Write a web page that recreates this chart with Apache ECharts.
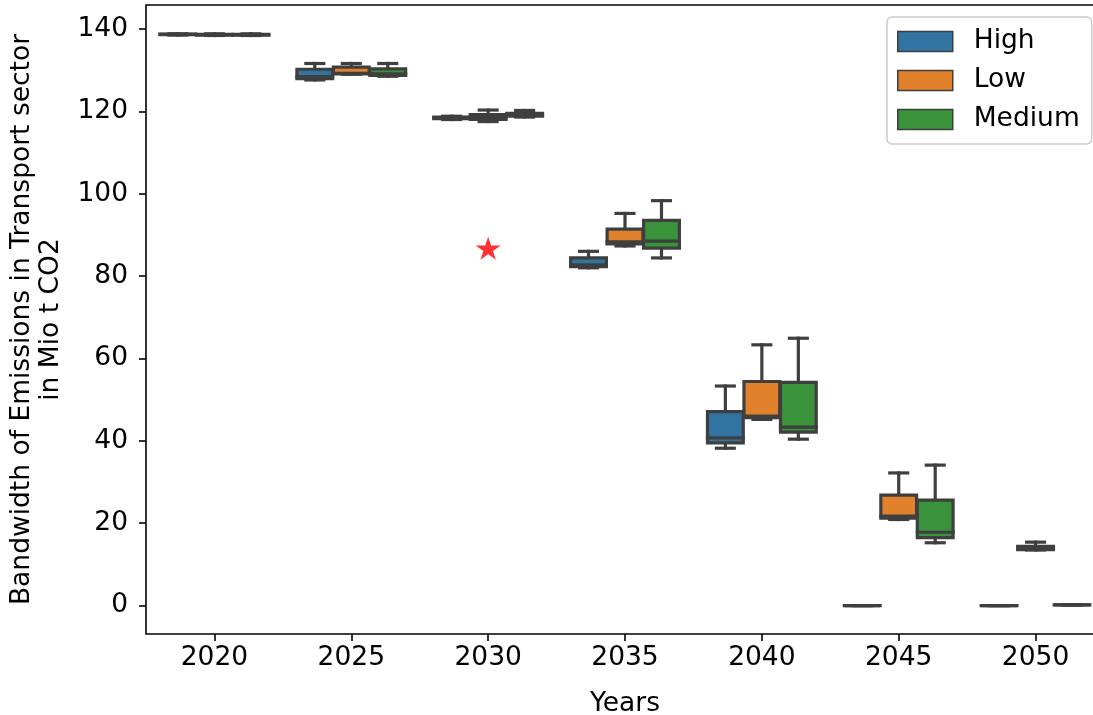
<!DOCTYPE html>
<html>
<head>
<meta charset="utf-8">
<script src="https://cdn.jsdelivr.net/npm/echarts@6/dist/echarts.min.js"></script>
<style>
  html, body { margin: 0; padding: 0; background: #fff; }
  #chart { width: 1093px; height: 715px; }
</style>
</head>
<body>
<div id="chart"></div>
<script>
// ---- Data ----
const years = ['2020', '2025', '2030', '2035', '2040', '2045', '2050'];
const scenarios = ['High', 'Low', 'Medium'];
// each row: [min, q1, median, q3, max]
const highStats = [
  [138.5, 138.6, 138.7, 138.75, 138.8],
  [127.6, 127.9, 128.4, 130.2, 131.6],
  [118.0, 118.2, 118.4, 118.6, 118.8],
  [82.0, 82.3, 82.7, 84.4, 86.0],
  [38.2, 39.5, 40.7, 47.1, 53.3],
  [0, 0, 0, 0, 0],
  [0, 0, 0, 0, 0]
];
const lowStats = [
  [138.4, 138.5, 138.6, 138.7, 138.8],
  [129.0, 129.1, 129.2, 130.7, 131.6],
  [117.5, 118.0, 118.6, 119.2, 120.3],
  [87.3, 87.8, 88.3, 91.4, 95.2],
  [45.2, 45.6, 46.0, 54.4, 63.3],
  [20.9, 21.25, 21.7, 26.8, 32.2],
  [13.5, 13.6, 14.0, 14.4, 15.4]
];
const mediumStats = [
  [138.4, 138.5, 138.6, 138.7, 138.8],
  [128.5, 128.7, 129.1, 130.3, 131.6],
  [118.6, 118.8, 119.1, 119.5, 120.2],
  [84.4, 86.8, 88.5, 93.5, 98.3],
  [40.4, 42.1, 43.3, 54.2, 64.9],
  [15.25, 16.5, 17.8, 25.6, 34.1],
  [0.15, 0.15, 0.15, 0.15, 0.15]
];
const targetYear = '2030';
const targetValue = 86.5;
const yTicks = [0, 20, 40, 60, 80, 100, 120, 140];

// ---- Styling ----
const COLORS = ['#3274a1', '#e1812c', '#3a923a'];
const EDGE = '#3f3f3f';
const LW = 3.2;
const FONT = 'DejaVu Sans';
const FS = 26.5;

const allStats = [highStats, lowStats, mediumStats];

function makeRender(k) {
  return function (params, api) {
    const idx = api.value(0);
    const band = api.size([1, 0])[0];
    const slot = band * 0.8 / 3;
    const w = slot * 0.98;
    const cx = api.coord([idx, 0])[0] + (k - 1) * slot;
    const yc = v => api.coord([idx, v])[1];
    const yMin = yc(api.value(1)), yQ1 = yc(api.value(2)), yMed = yc(api.value(3)),
          yQ3 = yc(api.value(4)), yMax = yc(api.value(5));
    const capW = w * 0.5;
    const ls = { stroke: EDGE, lineWidth: LW, lineCap: 'square' };
    return {
      type: 'group',
      children: [
        { type: 'line', shape: { x1: cx, y1: yQ3, x2: cx, y2: yMax }, style: ls },
        { type: 'line', shape: { x1: cx, y1: yQ1, x2: cx, y2: yMin }, style: ls },
        { type: 'line', shape: { x1: cx - capW / 2, y1: yMax, x2: cx + capW / 2, y2: yMax }, style: ls },
        { type: 'line', shape: { x1: cx - capW / 2, y1: yMin, x2: cx + capW / 2, y2: yMin }, style: ls },
        { type: 'rect', shape: { x: cx - w / 2, y: yQ3, width: w, height: yQ1 - yQ3 },
          style: { fill: COLORS[k], stroke: EDGE, lineWidth: LW, lineJoin: 'miter' } },
        { type: 'line', shape: { x1: cx - w / 2, y1: yMed, x2: cx + w / 2, y2: yMed }, style: ls }
      ]
    };
  };
}

const series = scenarios.map((name, k) => ({
  name: name,
  type: 'custom',
  renderItem: makeRender(k),
  itemStyle: { color: COLORS[k] },
  encode: { x: 0, y: [1, 2, 3, 4, 5] },
  data: allStats[k].map((s, i) => [i].concat(s)),
  z: 3
}));

series.push({
  name: 'Target',
  type: 'scatter',
  data: [[targetYear, targetValue]],
  symbol: 'path://M100 0 L122.45 69.1 L195.1 69.1 L136.33 111.8 L158.78 180.9 L100 138.2 L41.22 180.9 L63.67 111.8 L4.9 69.1 L77.55 69.1 Z',
  symbolSize: [25, 24],
  symbolKeepAspect: true,
  symbolOffset: [0, -1],
  itemStyle: { color: '#ff0000' },
  z: 4
});

const chart = echarts.init(document.getElementById('chart'), null, { renderer: 'canvas' });
chart.setOption({
  animation: false,
  backgroundColor: '#ffffff',
  textStyle: { fontFamily: FONT },
  grid: {
    left: 146, right: -11, top: 5, bottom: 81,
    containLabel: false,
    outerBoundsMode: 'none',
    show: true, borderColor: '#000', borderWidth: 1.6, backgroundColor: 'transparent'
  },
  legend: {
    orient: 'vertical',
    left: 887, top: 17,
    padding: [11, 12, 11, 10],
    itemWidth: 55, itemHeight: 20, itemGap: 12,
    icon: 'rect',
    borderColor: '#cccccc', borderWidth: 1.5, borderRadius: 5,
    backgroundColor: 'rgba(255,255,255,0.8)',
    textStyle: { fontFamily: FONT, fontSize: FS, color: '#000', padding: [0, 0, 0, 16] },
    data: scenarios.map((n, k) => ({
      name: n,
      itemStyle: { color: COLORS[k], borderColor: EDGE, borderWidth: 1.5 }
    }))
  },
  xAxis: {
    type: 'category',
    data: years,
    boundaryGap: true,
    name: 'Years',
    nameLocation: 'middle',
    nameGap: 57,
    nameTextStyle: { fontFamily: FONT, fontSize: FS, color: '#000' },
    axisLine: { show: false, onZero: false },
    axisTick: { show: true, alignWithLabel: true, length: 7, lineStyle: { color: '#000', width: 1.6 } },
    axisLabel: { fontFamily: FONT, fontSize: FS, color: '#000', margin: 11 },
    splitLine: { show: false }
  },
  yAxis: {
    type: 'value',
    min: -6.9, max: 145.8,
    name: 'Bandwidth of Emissions in Transport sector\nin Mio t CO2',
    nameLocation: 'middle',
    nameRotate: 90,
    nameGap: 80,
    nameTextStyle: { fontFamily: FONT, fontSize: FS, color: '#000', lineHeight: 29, align: 'center' },
    axisLine: { show: false },
    axisTick: { show: true, length: 7, customValues: yTicks, lineStyle: { color: '#000', width: 1.6 } },
    axisLabel: { fontFamily: FONT, fontSize: FS, color: '#000', margin: 18, customValues: yTicks },
    splitLine: { show: false }
  },
  series: series
});
</script>
</body>
</html>
